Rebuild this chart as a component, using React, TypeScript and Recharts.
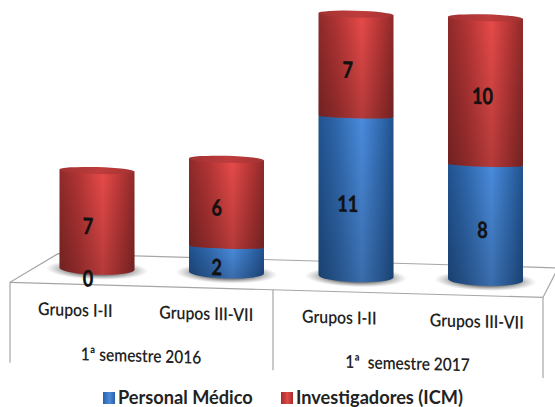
import React from "react";
import { BarChart, Bar, XAxis, YAxis, LabelList } from "recharts";

const groups = ["Grupos I-II", "Grupos III-VII", "Grupos I-II", "Grupos III-VII"];
const semesters = ["1ª semestre 2016", "1ª  semestre 2017"];
const personalMedico = [0, 2, 11, 8];
const investigadores = [7, 6, 7, 10];
const seriesNames = ["Personal Médico", "Investigadores (ICM)"];

const rows = groups.map((group, i) => ({
  id: `${group}-${i}`,
  group,
  personal: personalMedico[i],
  icm: investigadores[i],
}));

const FONT = "Lato, 'Open Sans', sans-serif";
const BASE_CURVE = 6;
const JOIN_CURVE = 2;

// The whole scene leans slightly downward to the right.
const LEAN = "skewY(1.63deg)";

// Offsets that follow the perspective of the scene, per category.
const valueLabelShift = [-9, -9.75, -8.25, -3];
const groupLabelShift = [-22, -20.5, -17, -9];
const semesterLabelShift = [-21, -13.5];

function segmentPath(x: number, top: number, w: number, bottom: number, curve: number) {
  return `M${x},${top} L${x},${bottom - curve} A${w / 2},${curve} 0 0 0 ${x + w},${bottom - curve} L${x + w},${top} Z`;
}

function PersonalShape(props: any) {
  const { x, y, width, height } = props;
  const base = y + height;
  return (
    <g>
      <ellipse cx={x + width / 2} cy={base - 5} rx={width * 0.68} ry={10} fill="url(#floorShadow)" />
      {height > 0 && (
        <>
          <path d={segmentPath(x, y - JOIN_CURVE, width, base, BASE_CURVE)} fill="url(#blueBody)" />
          <path d={segmentPath(x, y - JOIN_CURVE, width, base, BASE_CURVE)} fill="url(#bodyShade)" />
        </>
      )}
    </g>
  );
}

function IcmShape(props: any) {
  const { x, y, width, height, payload } = props;
  const bottom = y + height;
  const curve = payload.personal === 0 ? BASE_CURVE : JOIN_CURVE;
  const d = segmentPath(x, y, width, bottom, curve);
  return (
    <g>
      <path d={d} fill="url(#redBody)" />
      <path d={d} fill="url(#bodyShade)" />
      <ellipse cx={x + width / 2} cy={y} rx={width / 2} ry={3.5} fill="url(#redCap)" />
    </g>
  );
}

function ValueLabel(props: any) {
  const { x, y, width, height, value, index } = props;
  const cx = x + width / 2 + valueLabelShift[index];
  const cy = y + height / 2 + 3;
  return (
    <text
      transform={`translate(${cx},${cy}) scale(0.95,1.18)`}
      textAnchor="middle"
      dominantBaseline="central"
      fontFamily={FONT}
      fontWeight={700}
      fontSize={19}
      fill="#111"
      stroke="#111"
      strokeWidth={0.4}
    >
      {value}
    </text>
  );
}

function GroupTick(props: any) {
  const { x, index } = props;
  const pairIndex = index / 2;
  const labelStyle = { fontFamily: FONT, fontWeight: 600, fill: "#222" };
  return (
    <g>
      <text
        transform={`translate(${x + groupLabelShift[index]},314) scale(1.02,1.15)`}
        textAnchor="middle"
        fontSize={15.5}
        {...labelStyle}
      >
        {groups[index]}
      </text>
      {index % 2 === 0 && (
        <text
          transform={`translate(${x + 64.75 + semesterLabelShift[pairIndex]},358) scale(1,1.15)`}
          textAnchor="middle"
          fontSize={15.5}
          xmlSpace="preserve"
          {...labelStyle}
        >
          {semesters[pairIndex]}
        </text>
      )}
    </g>
  );
}

function FloorPanel() {
  const line = { stroke: "#a6a6a6", strokeWidth: 1.2, fill: "none" };
  return (
    <svg width={555} height={407} style={{ position: "absolute", left: 0, top: 0, overflow: "visible" }}>
      <polyline points="10,362.5 10,282 58,252 558,252" {...line} />
      <polyline points="10,282 543,282 558,252" {...line} />
      <line x1={273} y1={282} x2={273} y2={362.5} {...line} />
      <line x1={543} y1={282} x2={543} y2={362.5} {...line} />
    </svg>
  );
}

function LegendRow() {
  const swatches = ["linear-gradient(90deg,#2a62a8,#4a8ad8 55%,#2a62a8)", "linear-gradient(90deg,#a52c2c,#e04a48 55%,#a52c2c)"];
  const lefts = [103, 281];
  return (
    <div style={{ position: "absolute", left: 0, top: 388, width: 555, height: 19, fontFamily: FONT }}>
      {seriesNames.map((name, i) => (
        <div key={name} style={{ position: "absolute", left: lefts[i], top: 0, whiteSpace: "nowrap", display: "flex", alignItems: "center", height: 19 }}>
          <span style={{ display: "inline-block", width: 12, height: 12, background: swatches[i], marginRight: 3 }} />
          <span style={{ fontSize: 18.2, lineHeight: "19px", fontWeight: 700, color: "#222" }}>{name}</span>
        </div>
      ))}
    </div>
  );
}

export default function App() {
  return (
    <div style={{ position: "absolute", left: 0, top: 0, width: 555, height: 407, overflow: "hidden", background: "#fff" }}>
      <div style={{ position: "absolute", left: 0, top: 0, width: 555, height: 407, transform: LEAN, transformOrigin: "0 0" }}>
        <FloorPanel />
        <div style={{ position: "absolute", left: 0, top: 0 }}>
          <BarChart width={555} height={407} data={rows} margin={{ top: 4, right: 4.5, bottom: 0, left: 32.5 }} barSize={75}>
            <defs>
              <linearGradient id="blueBody" x1="0" y1="0" x2="1" y2="0">
                <stop offset="0%" stopColor="#21528f" />
                <stop offset="25%" stopColor="#2f68ad" />
                <stop offset="58%" stopColor="#4a8bdc" />
                <stop offset="85%" stopColor="#2f68ad" />
                <stop offset="100%" stopColor="#21528f" />
              </linearGradient>
              <linearGradient id="redBody" x1="0" y1="0" x2="1" y2="0">
                <stop offset="0%" stopColor="#8f2a2a" />
                <stop offset="25%" stopColor="#b23434" />
                <stop offset="58%" stopColor="#e64b49" />
                <stop offset="85%" stopColor="#b23434" />
                <stop offset="100%" stopColor="#8f2a2a" />
              </linearGradient>
              <linearGradient id="redCap" x1="0" y1="0" x2="1" y2="0">
                <stop offset="0%" stopColor="#a33232" />
                <stop offset="55%" stopColor="#bf3c3c" />
                <stop offset="100%" stopColor="#a33232" />
              </linearGradient>
              <linearGradient id="bodyShade" x1="0" y1="0" x2="0" y2="1">
                <stop offset="0%" stopColor="#000" stopOpacity={0} />
                <stop offset="100%" stopColor="#000" stopOpacity={0.22} />
              </linearGradient>
              <radialGradient id="floorShadow">
                <stop offset="55%" stopColor="#6e6e6e" stopOpacity={0.9} />
                <stop offset="100%" stopColor="#9a9a9a" stopOpacity={0} />
              </radialGradient>
            </defs>
            <XAxis dataKey="id" axisLine={false} tickLine={false} height={135} interval={0} tick={<GroupTick />} />
            <YAxis hide domain={[0, 18]} />
            <Bar dataKey="personal" stackId="a" shape={<PersonalShape />} isAnimationActive={false}>
              <LabelList dataKey="personal" content={<ValueLabel />} />
            </Bar>
            <Bar dataKey="icm" stackId="a" shape={<IcmShape />} isAnimationActive={false}>
              <LabelList dataKey="icm" content={<ValueLabel />} />
            </Bar>
          </BarChart>
        </div>
      </div>
      <LegendRow />
    </div>
  );
}
